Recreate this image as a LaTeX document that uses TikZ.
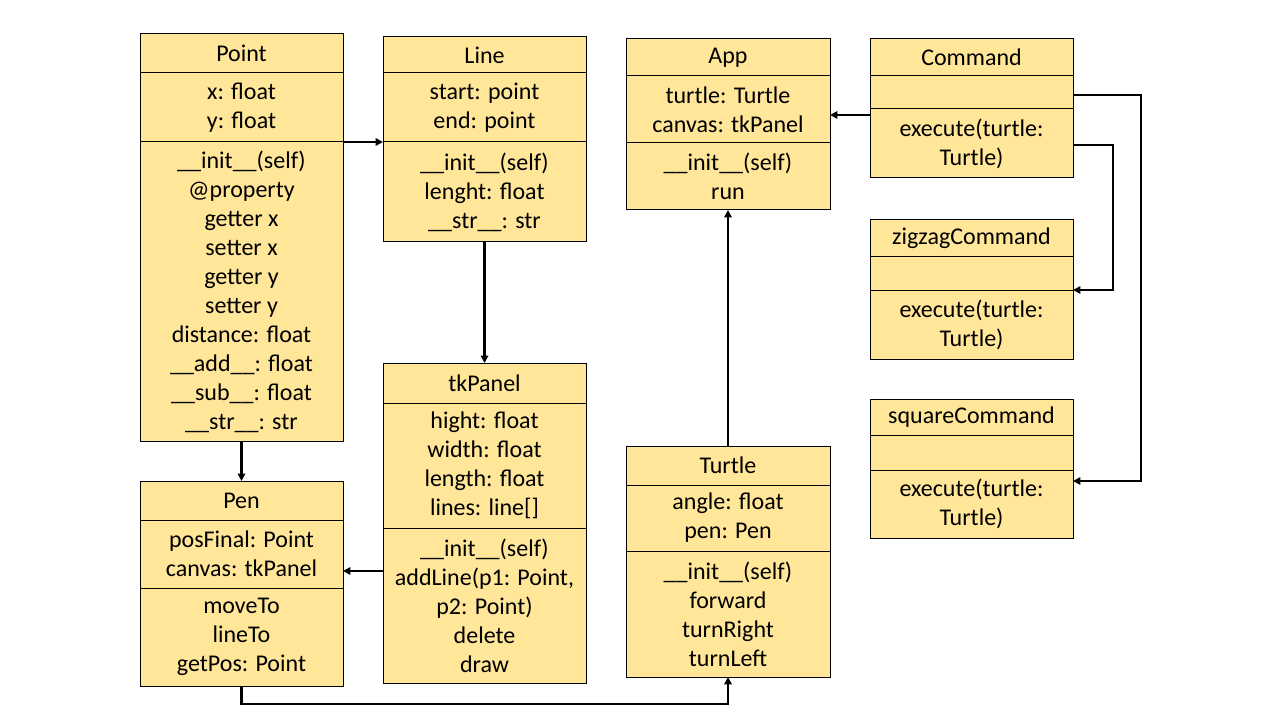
\documentclass[tikz,border=0pt]{standalone}
\usepackage{fontspec}
\setmainfont{Carlito}
\usetikzlibrary{fit,arrows.meta}
\definecolor{boxfill}{RGB}{255,230,153}
\begin{document}
\begin{tikzpicture}[x=0.75pt,y=-0.75pt,
  box/.style={draw=black, fill=boxfill, line width=0.75pt, inner sep=0pt, outer sep=0pt},
  lbl/.style={align=center, inner sep=0pt, font=\fontsize{18}{21.75}\selectfont},
  conn/.style={draw=black, line width=1.9pt, -{Triangle[length=5.5pt,width=5.5pt]}}]
\useasboundingbox[fill=white] (0,0) rectangle (1280,720);
% Point
\node[box, fit={(140,34) (343,73)}, label={[lbl]center:Point}] (pointT) {};
\node[box, fit={(140,73) (343,142)}, label={[lbl]center:{x: float\\y: float}}] (pointA) {};
\node[box, fit={(140,142) (343,441)}, label={[lbl]center:{\_\_init\_\_(self)\\@property\\getter x\\setter x\\getter y\\setter y\\distance: float\\\_\_add\_\_: float\\\_\_sub\_\_: float\\\_\_str\_\_: str}}] (pointM) {};
% Line
\node[box, fit={(383,37) (586,73)}, label={[lbl]center:Line}] (lineT) {};
\node[box, fit={(383,73) (586,142)}, label={[lbl]center:{start: point\\end: point}}] (lineA) {};
\node[box, fit={(383,142) (586,242)}, label={[lbl]center:{\_\_init\_\_(self)\\lenght: float\\\_\_str\_\_: str}}] (lineM) {};
% App
\node[box, fit={(626,39) (830,76)}, label={[lbl]center:App}] (appT) {};
\node[box, fit={(626,76) (830,143)}, label={[lbl]center:{turtle: Turtle\\canvas: tkPanel}}] (appA) {};
\node[box, fit={(626,143) (830,210)}, label={[lbl]center:{\_\_init\_\_(self)\\run}}] (appM) {};
% Command
\node[box, fit={(870,39) (1073,76)}, label={[lbl]center:Command}] (cmdT) {};
\node[box, fit={(870,76) (1073,109)}] (cmdA) {};
\node[box, fit={(870,109) (1073,178)}, label={[lbl]center:{execute(turtle:\\Turtle)}}] (cmdM) {};
% zigzagCommand
\node[box, fit={(870,220) (1073,256)}, label={[lbl]center:zigzagCommand}] (zzT) {};
\node[box, fit={(870,256) (1073,290)}] (zzA) {};
\node[box, fit={(870,290) (1073,359)}, label={[lbl]center:{execute(turtle:\\Turtle)}}] (zzM) {};
% squareCommand
\node[box, fit={(870,399) (1073,435)}, label={[lbl]center:squareCommand}] (sqT) {};
\node[box, fit={(870,435) (1073,470)}] (sqA) {};
\node[box, fit={(870,470) (1073,538)}, label={[lbl]center:{execute(turtle:\\Turtle)}}] (sqM) {};
% tkPanel
\node[box, fit={(383,363) (586,403)}, label={[lbl]center:tkPanel}] (tkT) {};
\node[box, fit={(383,403) (586,528)}, label={[lbl]center:{hight: float\\width: float\\length: float\\lines: line[]}}] (tkA) {};
\node[box, fit={(383,528) (586,683)}, label={[lbl]center:{\_\_init\_\_(self)\\addLine(p1: Point,\\p2: Point)\\delete\\draw}}] (tkM) {};
% Pen
\node[box, fit={(140,481) (343,520)}, label={[lbl]center:Pen}] (penT) {};
\node[box, fit={(140,520) (343,588)}, label={[lbl]center:{posFinal: Point\\canvas: tkPanel}}] (penA) {};
\node[box, fit={(140,588) (343,686)}, label={[lbl]center:{moveTo\\lineTo\\getPos: Point}}] (penM) {};
% Turtle
\node[box, fit={(626,446) (830,485)}, label={[lbl]center:Turtle}] (turT) {};
\node[box, fit={(626,485) (830,551)}, label={[lbl]center:{angle: float\\pen: Pen}}] (turA) {};
\node[box, fit={(626,551) (830,677)}, label={[lbl]center:{\_\_init\_\_(self)\\forward\\turnRight\\turnLeft}}] (turM) {};
% connectors
\draw[conn] (pointA.south east) -- (lineA.south west);
\draw[conn] (lineM.south) -- (tkT.north);
\draw[conn] (pointM.south) -- (penT.north);
\draw[conn] (tkM.west |- 0,571) -- (penA.east |- 0,571);
\draw[conn] (penM.south) -- ++(0,18) -| (turM.south);
\draw[conn] (turT.north) -- (appM.south);
\draw[conn] (cmdM.west |- 0,115) -- (appA.east |- 0,115);
\coordinate (sqbend) at (1141,481);
\coordinate (zzbend) at (1113,290);
\draw[conn] (cmdA.east |- 0,95) -| (sqbend) -- (sqM.east |- sqbend);
\draw[conn] (cmdM.east |- 0,145) -| (zzbend) -- (zzM.north east);
\end{tikzpicture}
\end{document}
